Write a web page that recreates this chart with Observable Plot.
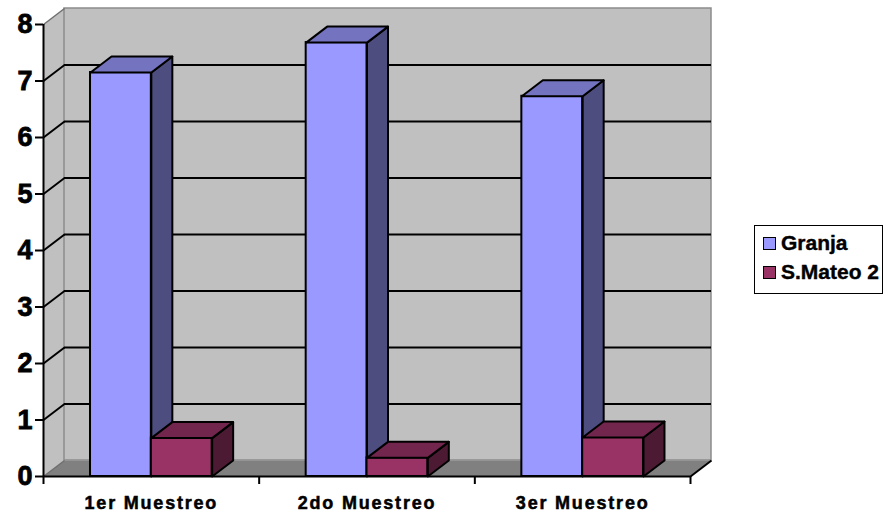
<!DOCTYPE html>
<html>
<head>
<meta charset="utf-8">
<script src="https://cdn.jsdelivr.net/npm/d3@7"></script>
<script src="https://cdn.jsdelivr.net/npm/@observablehq/plot@0.6"></script>
<style>
  html, body { margin: 0; padding: 0; background: #fff; }
  #wrap { position: relative; width: 883px; height: 516px; font-family: "Liberation Sans", Arial, sans-serif; }
  #legend { position: absolute; left: 754px; top: 225px; width: 127px; height: 67px; border: 1.5px solid #000; background: #fff; font-weight: bold; font-size: 21px; -webkit-text-stroke: 0.4px #000; }
  .row { position: absolute; left: 8px; display: flex; align-items: center; white-space: nowrap; }
  .sw { width: 11px; height: 11px; border: 1.5px solid #000; margin-right: 5px; }
</style>
</head>
<body>
<div id="wrap"></div>
<script>
// ---- data ----
const categories = ["1er Muestreo", "2do Muestreo", "3er Muestreo"];
const seriesNames = ["Granja", "S.Mateo 2"];
const granja = [7.15, 7.68, 6.73];
const smateo = [0.68, 0.33, 0.69];
const yTicks = [0, 1, 2, 3, 4, 5, 6, 7, 8];

// ---- styles ----
const frontColors = ["#9999ff", "#993366"];
const topColors = ["#7373bf", "#73264d"];
const sideColors = ["#4d4d80", "#4d1a33"];

const W = 883, H = 516, mL = 43, mR = 193, mT = 24, mB = 40;
const plotW = W - mL - mR, plotH = H - mT - mB;
const nCat = categories.length, yMax = 8;
const DX = 21, DY = 16; // depth in px
const ddx = DX * nCat / plotW, ddy = DY * yMax / plotH; // depth in data units
const gap = 0.218, barW = (1 - 2 * gap) / 2;

const values = [granja, smateo];
const poly = (pts, id) => pts.map(([x, y]) => ({x, y, id}));

const marks = [];
// left side wall
marks.push(Plot.line(poly([[0, 0], [0, yMax], [ddx, yMax + ddy], [ddx, ddy], [0, 0]], "lw"),
  {x: "x", y: "y", z: "id", fill: "#c0c0c0", stroke: "none"}));
// back wall
marks.push(Plot.rect([0], {x1: 0, x2: nCat, y1: 0, y2: yMax, dx: DX, dy: -DY, fill: "#c0c0c0", stroke: "#8c8c8c", strokeWidth: 1.5}));
// floor
marks.push(Plot.line(poly([[0, 0], [nCat, 0], [nCat + ddx, ddy], [ddx, ddy], [0, 0]], "fl"),
  {x: "x", y: "y", z: "id", fill: "#808080", stroke: "none"}));
// top and bottom diagonals of side wall (gray)
marks.push(Plot.link([0, yMax], {x1: 0, y1: d => d, x2: ddx, y2: d => d + ddy, stroke: "#6e6e6e", strokeWidth: 1.5}));
// gridlines on back wall
const inner = yTicks.filter(t => t > 0 && t < yMax);
marks.push(Plot.ruleY(inner, {x1: 0, x2: nCat, dx: DX, dy: -DY, stroke: "#000", strokeWidth: 2}));
marks.push(Plot.link(inner, {x1: 0, y1: d => d, x2: ddx, y2: d => d + ddy, stroke: "#000", strokeWidth: 2}));
// right floor edge
marks.push(Plot.link([0], {x1: nCat, y1: 0, x2: nCat + ddx, y2: ddy, stroke: "#000", strokeWidth: 2}));

// bars
seriesNames.forEach((name, s) => {
  const bars = values[s].map((v, i) => {
    const x1 = i + gap + s * barW, x2 = x1 + barW;
    return {id: name + i, x1, x2, v};
  });
  marks.push(Plot.rect(bars, {x1: "x1", x2: "x2", y1: 0, y2: "v", fill: frontColors[s], stroke: "#000", strokeWidth: 2}));
  const sides = bars.flatMap(b => poly([[b.x2, 0], [b.x2, b.v], [b.x2 + ddx, b.v + ddy], [b.x2 + ddx, ddy], [b.x2, 0]], b.id));
  marks.push(Plot.line(sides, {x: "x", y: "y", z: "id", fill: sideColors[s], stroke: "#000", strokeWidth: 2, strokeLinejoin: "round"}));
  const tops = bars.flatMap(b => poly([[b.x1, b.v], [b.x2, b.v], [b.x2 + ddx, b.v + ddy], [b.x1 + ddx, b.v + ddy], [b.x1, b.v]], b.id));
  marks.push(Plot.line(tops, {x: "x", y: "y", z: "id", fill: topColors[s], stroke: "#000", strokeWidth: 2, strokeLinejoin: "round"}));
});

// axis lines
marks.push(Plot.ruleX([0], {y1: 0, y2: yMax, stroke: "#000", strokeWidth: 2}));
marks.push(Plot.ruleY([0], {x1: 0, x2: nCat, stroke: "#000", strokeWidth: 2}));
// axes
marks.push(Plot.axisY(yTicks, {tickSize: 8, tickPadding: 3, fontSize: 27, fontWeight: "bold", strokeWidth: 2, stroke: "#000", fill: "#000", tickFormat: d => String(d)}));
marks.push(Plot.axisX(d3.range(nCat + 1), {tickSize: 8, tickFormat: () => "", strokeWidth: 2, stroke: "#000"}));
marks.push(Plot.axisX(categories.map((c, i) => i + 0.5), {
  tickSize: 0, tickPadding: 20, fontSize: 18, fontWeight: "bold", fill: "#000",
  tickFormat: d => categories[Math.floor(d)]
}));

const chart = Plot.plot({
  width: W, height: H,
  marginLeft: mL, marginRight: mR, marginTop: mT, marginBottom: mB,
  x: {domain: [0, nCat], axis: null},
  y: {domain: [0, yMax], axis: null},
  style: {fontFamily: "'Liberation Sans', Arial, sans-serif", background: "transparent", overflow: "visible"},
  marks
});
d3.select(chart).selectAll("text").filter(function () { return /Muestreo/.test(this.textContent); })
  .style("letter-spacing", "1.8px").style("stroke", "#000").style("stroke-width", "0.5px");
d3.select(chart).selectAll("text").filter(function () { return /^\d$/.test(this.textContent); })
  .style("stroke", "#000").style("stroke-width", "0.8px");
const wrap = document.getElementById("wrap");
wrap.appendChild(chart);

// legend
const legend = document.createElement("div");
legend.id = "legend";
seriesNames.forEach((name, s) => {
  const row = document.createElement("div");
  row.className = "row";
  row.style.top = (s === 0 ? 5 : 34) + "px";
  const sw = document.createElement("div");
  sw.className = "sw";
  sw.style.background = frontColors[s];
  const t = document.createElement("span");
  t.textContent = name;
  row.appendChild(sw);
  row.appendChild(t);
  legend.appendChild(row);
});
wrap.appendChild(legend);
</script>
</body>
</html>
